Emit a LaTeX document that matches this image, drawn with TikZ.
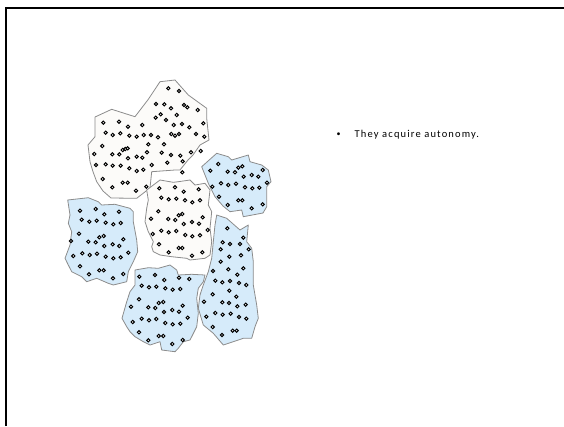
\documentclass[tikz,border=0pt]{standalone}
\usepackage{fontspec}
\setmainfont{Carlito}
\begin{document}
\begin{tikzpicture}[x=1pt,y=-1pt,
  frameline/.style={line width=2pt,black},
  blobblue/.style={draw=black!45,line width=0.8pt,fill={rgb,255:red,214;green,235;blue,250},line join=round},
  blobwhite/.style={draw=black!45,line width=0.8pt,fill={rgb,255:red,252;green,251;blue,249},line join=round},
  dotmark/.style={draw=black,line width=0.95pt,fill=white,circle,inner sep=0pt,minimum size=3.3pt},
  txt/.style={font=\fontsize{10.5}{12}\selectfont\addfontfeature{LetterSpace=11},anchor=west,inner sep=0pt}]
\useasboundingbox (0,0) rectangle (564,426);
% slide frame (top and left edges)
\draw[frameline] (5.5,426) -- (5.5,7.5) -- (564,7.5);
% blob 1 (white, top)
\draw[blobwhite] (95,117) -- (111.7,109.3) -- (135,116.7) -- (148.3,99.3) -- (160,81.7) -- (175,80) -- (188.3,95) -- (206.7,108.3) -- (206.7,118.3) -- (209,140) -- (200,145) -- (193,155) -- (188,160) -- (180,170) -- (175,170) -- (151.7,171.7) -- (150,188) -- (136.7,198.3) -- (111,198) -- (103,191) -- (96.7,181.7) -- (93,171.7) -- (90,161.7) -- (88,145) -- (95,136.7) -- cycle;
% blob 2 (blue, right top)
\draw[blobblue] (201.7,166.7) -- (216.7,153.3) -- (228.3,156.7) -- (231.7,160) -- (248.3,155) -- (250,161.7) -- (261.7,165) -- (268.3,170) -- (271,181.7) -- (266.7,186.7) -- (266.7,206.7) -- (263,213) -- (243.3,216.7) -- (241.7,210) -- (230,211.7) -- (223,206) -- (215,196.7) -- (208.3,183.3) -- cycle;
% blob 3 (blue, left)
\draw[blobblue] (67.7,200) -- (88.3,197.7) -- (98.3,201.7) -- (101.7,205) -- (115,204.3) -- (130,208.3) -- (133.3,211.7) -- (133.3,221.7) -- (136.7,240) -- (137.7,251.7) -- (133.3,261.7) -- (128.3,271.7) -- (126.7,281.7) -- (113.3,285) -- (108.3,283.3) -- (96.7,278.3) -- (86.7,281.7) -- (81.7,276.7) -- (71.7,271.7) -- (68.3,265) -- (65,258.3) -- (70,245) -- (71.7,231.7) -- (68.3,223.3) -- (70,215) -- cycle;
% blob 4 (white, middle)
\draw[blobwhite] (146.7,190) -- (160,180) -- (173.3,182.3) -- (178.3,181.7) -- (190,180) -- (195,185) -- (205,183.3) -- (210,190) -- (208.3,205) -- (211.7,211.7) -- (210,228.3) -- (211.7,241.7) -- (210,255) -- (205,258.3) -- (190,260) -- (186.7,258.3) -- (171.7,256.7) -- (160,255) -- (153.3,251.7) -- (151.7,246.7) -- (153.3,241.7) -- (148.3,231.7) -- (145,221.7) -- (146.7,208.3) -- (148.3,200) -- cycle;
% blob 5 (blue, bottom)
\draw[blobblue] (135,270) -- (148.3,267.7) -- (158.3,268.3) -- (170,265) -- (176.7,270) -- (178.3,275) -- (191.7,274.3) -- (205,275) -- (203.3,281.7) -- (198.3,288.3) -- (196.7,298.3) -- (198.3,313.3) -- (196.7,326.7) -- (191.7,336.7) -- (190,340) -- (183.3,341.7) -- (178.3,348.3) -- (175,351.7) -- (161.7,350) -- (160,341.7) -- (150,345) -- (143.3,341.7) -- (135,336.7) -- (130,331.7) -- (126.7,326.7) -- (122,318.3) -- (126.7,301.7) -- (130,291.7) -- (135,285) -- cycle;
% blob 6 (blue, right tall)
\draw[blobblue] (216.7,215) -- (226.7,218.3) -- (240,230) -- (248.3,225) -- (246.7,241.7) -- (251.7,248.3) -- (253.3,261.7) -- (253.3,285) -- (256.7,305) -- (258.3,318.3) -- (255,326.7) -- (251.7,338.3) -- (243.3,338.3) -- (233.3,341.7) -- (223.3,345) -- (213.3,333.3) -- (203.3,325) -- (198.3,308.3) -- (200,295) -- (203.3,285) -- (208.3,271.7) -- (211.7,258.3) -- (213.3,241.7) -- (215,225) -- cycle;
% dots blob 1
\foreach \p [count=\i] in {(168.3,88.3),(179,91),(156,104),(164.3,104.3),(171,108.3),(184,105),(187.3,107.3),(197.7,110),(160.7,114.3),(155.7,117.7),(166,120),(176.7,115),(103.3,122.7),(119,121.7),(128,126.7),(142.3,125),(173.7,125),(182,124),(189.3,127.3),(203.3,123.3),(105.7,132.7),(112.7,135),(120.3,133.3),(129.3,135.7),(136.7,136.7),(143.7,135),(151,135),(158,137.3),(171.3,134),(175,135.7),(179,134),(196,134),(204.3,136.7),(102.3,146),(148.3,144.3),(164,144.3),(94.3,154),(112.3,154.3),(119.3,154.3),(122.7,150),(125.3,149),(127.7,148.3),(128,158.3),(136.7,156.7),(142.3,157.7),(147,152.3),(161.7,152.7),(171,155),(180.3,155.7),(191,152.3),(200.7,151),(96,165),(105.7,164.3),(112.7,165.7),(120.7,165.7),(129.3,168.3),(136.7,171),(143.3,169.7),(151.7,165),(167.3,162.7),(182.7,161.3),(182.3,172.3),(102.7,179),(122.7,182.7),(127.7,182.7),(112.3,187.3),(136,190.7),(146.3,186.7)}
  \node[dotmark] (da\i) at \p {};
% dots blob 2
\foreach \p [count=\i] in {(218.3,164),(210.3,170.7),(227.7,171.7),(235,172.3),(238.3,167.7),(242.3,166.3),(243.7,176.7),(251.7,175),(258.3,176.7),(262.7,170),(212.3,186.7),(221,183.3),(228.3,185),(236,183.7),(245,187.3),(252.3,188.3),(259.3,187.7),(267,182.7),(219,196.7),(227.7,205),(238.3,200.3),(242.3,200.3),(251.7,208.3),(262.7,204.3)}
  \node[dotmark] (db\i) at \p {};
% dots blob 3
\foreach \p [count=\i] in {(80,210.7),(95.7,209),(104.3,214.3),(119,211.7),(81.7,219.7),(89.3,221.7),(96.7,220.7),(105.7,222.7),(113.3,224.3),(120.7,223),(79,233.7),(71,241),(88.3,241.7),(95.7,242.3),(99.3,237.3),(103.7,236),(104.3,246),(112.7,244.3),(119.3,246),(123.3,239.3),(73.3,256),(82.3,253.3),(89.7,255),(97,253.7),(105.7,256.7),(113.3,258.3),(120.7,257.3),(128.3,252.7),(80,266.3),(89,274.3),(99.3,270.3),(103.7,270.3),(113,278.3),(123.3,274)}
  \node[dotmark] (dc\i) at \p {};
% dots blob 4
\foreach \p [count=\i] in {(159.3,188.3),(175,187.3),(183.7,191.7),(198.7,189.3),(161.3,197.7),(168.7,199.3),(176.3,198.7),(185,200.3),(192.3,202.3),(200,200.3),(158.3,211.3),(151,218.7),(168.3,219),(175.3,220),(178.7,215.3),(182.3,214),(183.7,224),(192,222),(199,223.7),(202.7,217.3),(152.7,234),(161.3,230.7),(168.7,232.3),(176.3,231),(185.3,235),(192.3,236.3),(200,235.3),(207.7,230),(159,244.3),(168.7,252.3),(178.7,248),(182.3,248),(192,255.7),(202.3,252.3)}
  \node[dotmark] (dd\i) at \p {};
% dots blob 5
\foreach \p [count=\i] in {(139.3,276.7),(155,275),(164.3,280),(179,277.7),(189.3,279),(141.7,285.7),(149,287.3),(156.3,286.7),(165.3,288.3),(172.7,289.7),(180.3,289),(139,299.3),(131,306.7),(148.3,307.3),(155.3,308),(158.7,303),(163.3,302),(164,312),(172.3,310),(179,311.7),(182.7,305.7),(132.7,322),(141.7,318.7),(149,320.3),(156.3,319),(165.3,323),(172.7,324.3),(180.3,323.7),(187.7,317.7),(139,332.3),(148.3,340.3),(158.7,336),(163.3,336),(172.3,344),(182.7,340)}
  \node[dotmark] (de\i) at \p {};
% dots blob 6
\foreach \p [count=\i] in {(227.3,228.3),(243.3,237.7),(222.7,242.3),(230,244),(240,244),(248.7,249.3),(220.7,249.3),(229.3,256.7),(241,255.3),(220.7,261.7),(228.3,269.3),(243.3,268.3),(213,271),(237.3,274.7),(215.3,280.7),(222.3,282.3),(230,281),(239,283),(246.3,285),(229.3,290.7),(212.7,294.3),(236.3,296.7),(204,301.7),(222.3,302.3),(229,303),(237.3,306.3),(245.7,304.7),(215.3,313),(222.7,314.7),(230.7,313.7),(239,317),(246.3,318.7),(206.3,316.7),(212.7,327),(222,335),(232.7,330.7),(236.7,330.7)}
  \node[dotmark] (df\i) at \p {};
% text
\node[txt,font=\fontsize{8}{10}\selectfont] (bul) at (336.5,134.5) {\textbullet};
\node[txt] (msg) at (354.5,134.5) {They acquire autonomy.};
\end{tikzpicture}
\end{document}
